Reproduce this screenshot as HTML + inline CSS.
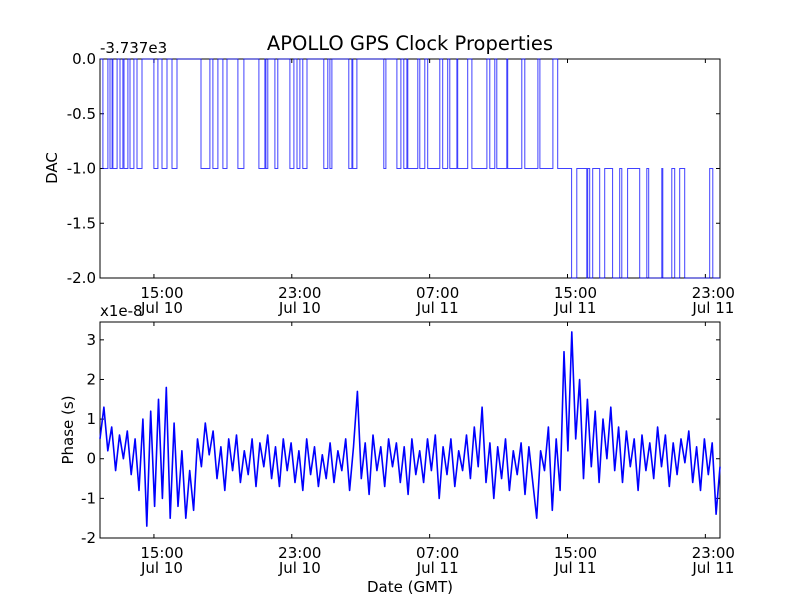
<!DOCTYPE html>
<html><head><meta charset="utf-8"><style>
body{margin:0;background:#fff;}
svg{display:block;font-family:"DejaVu Sans","Liberation Sans",sans-serif;}
</style></head><body>
<svg id="c" width="800" height="600" viewBox="0 0 800 600" xmlns="http://www.w3.org/2000/svg">
<rect width="800" height="600" fill="#fff"/>
<text x="410" y="50" font-size="19.5" text-anchor="middle">APOLLO GPS Clock Properties</text>
<text x="100" y="53" font-size="15">-3.737e3</text>
<text x="100" y="316" font-size="15">x1e-8</text>
<text transform="translate(57,168) rotate(-90)" font-size="15" text-anchor="middle">DAC</text>
<text transform="translate(73,430) rotate(-90)" font-size="15" text-anchor="middle">Phase (s)</text>
<text x="410" y="592" font-size="15" text-anchor="middle">Date (GMT)</text>
<g id="top"></g>
<g id="bot"></g>
</svg>
<script>
// x ticks (hours since 00:00 Jul 10)
const xTickHours=[15,23,31,39,47];
const xTickTimes=["15:00","23:00","07:00","15:00","23:00"];
const xTickDates=["Jul 10","Jul 10","Jul 11","Jul 11","Jul 11"];
const xStartHour=11.87, xEndHour=47.85;
// DAC step data (offset from -3737)
const dacTimes=[11.87,12.04,12.33,12.45,12.57,12.62,12.86,13.03,13.20,13.26,13.49,13.61,13.84,14.02,14.31,15.00,15.23,15.47,15.76,16.05,16.34,17.73,18.25,18.42,18.71,19.00,19.24,19.87,20.22,21.09,21.44,21.50,21.61,22.02,22.19,22.89,23.12,23.30,23.47,23.64,23.88,24.86,25.09,25.21,25.33,26.31,26.49,26.54,26.78,28.34,28.46,29.10,29.33,29.50,29.68,29.73,
30.31,30.43,30.72,30.89,31.59,31.76,32.05,32.17,32.58,32.63,33.21,33.45,34.32,34.49,34.78,34.90,35.48,35.53,36.35,36.52,37.28,37.40,38.15,38.43,
39.24,39.54,40.12,40.17,40.29,40.46,40.87,41.16,41.62,42.03,42.15,42.49,43.19,43.60,43.71,44.47,44.53,45.05,45.22,45.51,45.80,47.25,47.43,47.85];
const dacValues=[0,-1,0,-1,0,-1,0,-1,0,-1,0,-1,0,-1,0,-1,0,-1,0,-1,0,-1,0,-1,0,-1,0,-1,0,-1,0,-1,0,-1,0,-1,0,-1,0,-1,0,-1,0,-1,0,-1,0,-1,0,-1,0,-1,0,-1,0,-1,
0,-1,0,-1,0,-1,0,-1,0,-1,0,-1,0,-1,0,-1,0,-1,0,-1,0,-1,0,-1,
-2,-1,-2,-1,-2,-1,-2,-1,-2,-1,-2,-1,-2,-1,-2,-1,-2,-1,-2,-1,-2,-1,-2,-2];
const dacTicks=[0,-0.5,-1,-1.5,-2];
const dacTickLabels=["0.0","-0.5","-1.0","-1.5","-2.0"];
// Phase data (units 1e-8 s), evenly spaced from xStartHour to xEndHour
const phaseValues=[0.5,1.3,0.2,0.8,-0.3,0.6,0.0,0.7,-0.4,0.5,
-0.8,1.0,-1.7,1.2,-1.2,1.5,-1.0,1.8,-1.5,0.9,
-1.2,0.2,-1.5,-0.3,-1.3,0.5,-0.2,0.9,0.1,0.7,
-0.5,0.3,-0.8,0.5,-0.3,0.6,-0.6,0.2,-0.4,0.5,-0.7,0.4,-0.2,0.6,-0.5,0.3,-0.7,0.5,-0.3,
0.4,-0.6,0.2,-0.8,0.5,-0.4,0.3,-0.7,0.1,-0.5,0.4,-0.6,0.2,-0.3,0.5,-0.8,0.3,1.7,
-0.5,0.4,-0.9,0.6,-0.3,0.3,-0.7,0.5,-0.2,0.4,-0.6,0.3,-0.9,0.5,-0.4,0.2,
-0.6,0.5,-0.3,0.6,-1.0,0.3,-0.4,0.5,-0.7,0.2,-0.3,0.6,-0.5,0.8,-0.2,1.3,
-0.6,0.4,-1.0,0.3,-0.5,0.5,-0.8,0.2,-0.4,0.4,-0.9,0.3,-0.6,-1.5,0.2,-0.3,
0.8,-1.3,0.5,-0.8,2.7,0.2,3.2,0.5,2.0,-0.5,
1.5,-0.2,1.2,-0.6,1.0,0.0,1.3,-0.3,0.8,
-0.6,0.7,-0.2,0.5,-0.8,0.6,-0.3,0.4,-0.5,0.8,-0.2,0.6,-0.7,0.4,-0.4,0.5,-0.1,0.7,-0.6,0.3,
-0.8,0.5,-0.4,0.4,-1.4,-0.2];
const phaseTicks=[3,2,1,0,-1,-2];
const phaseTickLabels=["3","2","1","0","-1","-2"];

const NS="http://www.w3.org/2000/svg";
const L=100,R=720;
function xs(h){return L+(h-xStartHour)/(xEndHour-xStartHour)*(R-L);}
function mk(tag,attrs,parent){const e=document.createElementNS(NS,tag);for(const k in attrs)e.setAttribute(k,attrs[k]);parent.appendChild(e);return e;}

function panel(g,top,bot,ymax,ymin,yt,ytl,prefix){
  const ys=v=>top+(ymax-v)/(ymax-ymin)*(bot-top);
  const frame=mk('rect',{x:L,y:top,width:R-L,height:bot-top,fill:'none',stroke:'#000','stroke-width':1},g);
  
  
  yt.forEach((v,i)=>{
    const y=ys(v);
    mk('line',{x1:L,x2:L+4,y1:y,y2:y,stroke:'#000'},g);
    mk('line',{x1:R-4,x2:R,y1:y,y2:y,stroke:'#000'},g);
    const t=mk('text',{x:L-4,y:y+5,'font-size':15,'text-anchor':'end'},g);
    t.textContent=ytl[i];
    
    
  });
  xTickHours.forEach((h,i)=>{
    const x=xs(h);
    mk('line',{x1:x,x2:x,y1:top,y2:top+4,stroke:'#000'},g);
    mk('line',{x1:x,x2:x,y1:bot-4,y2:bot,stroke:'#000'},g);
    const t1=mk('text',{x:x+8,y:bot+20,'font-size':15,'text-anchor':'middle'},g);
    t1.textContent=xTickTimes[i];
    
    
    const t2=mk('text',{x:x+8,y:bot+35,'font-size':15,'text-anchor':'middle'},g);
    t2.textContent=xTickDates[i];
    
    
  });
  return ys;
}
const gt=document.getElementById('top'), gb=document.getElementById('bot');
const ysT=panel(gt,59,278,0,-2,dacTicks,dacTickLabels,'dac');
let d='';
for(let i=0;i<dacTimes.length;i++){
  const x=xs(dacTimes[i]).toFixed(1), y=ysT(dacValues[i]).toFixed(1);
  if(i===0) d+='M'+x+','+y; else d+='H'+x+'V'+y;
}
const dl=mk('path',{d:d,fill:'none',stroke:'#0000ff','stroke-width':1,'stroke-opacity':0.75},gt);



const ysB=panel(gb,322,538,3.45,-2,phaseTicks,phaseTickLabels,'phase');
let p='';
const n=phaseValues.length;
phaseValues.forEach((v,i)=>{
  const h=xStartHour+i*(xEndHour-xStartHour)/(n-1);
  p+=(i?'L':'M')+xs(h).toFixed(1)+','+ysB(v).toFixed(1);
});
const pl=mk('path',{d:p,fill:'none',stroke:'#0000ff','stroke-width':1.6,'stroke-linejoin':'round'},gb);


</script>
</body></html>
